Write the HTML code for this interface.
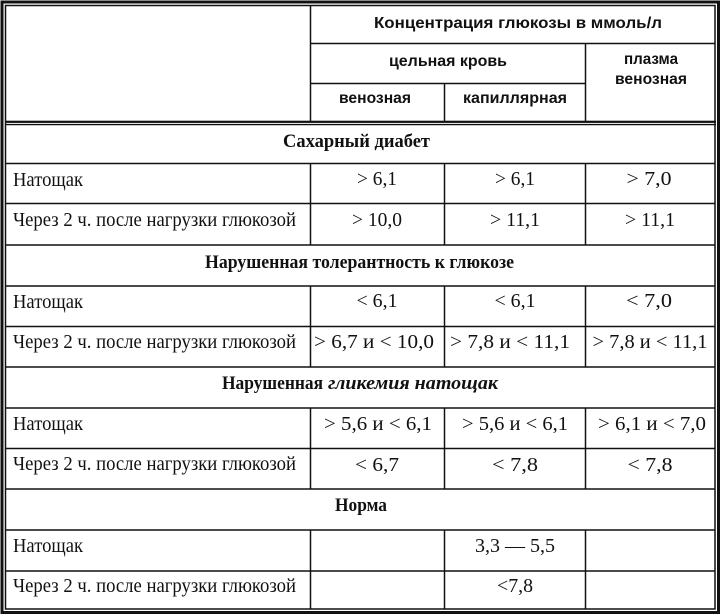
<!DOCTYPE html>
<html>
<head>
<meta charset="utf-8">
<style>
html,body{margin:0;padding:0;background:#fff;}
svg{display:block;}
.s{font-family:"Liberation Serif","DejaVu Serif",serif;font-size:19.5px;fill:#111;}
.sb{font-family:"Liberation Serif","DejaVu Serif",serif;font-size:19px;font-weight:bold;fill:#111;}
.sbi{font-family:"Liberation Serif","DejaVu Serif",serif;font-size:19px;font-weight:bold;font-style:italic;fill:#111;}
.h{font-family:"Liberation Sans","DejaVu Sans",sans-serif;font-size:16px;font-weight:bold;fill:#111;}
</style>
</head>
<body>
<svg width="723" height="616" viewBox="0 0 723 616" xmlns="http://www.w3.org/2000/svg">
<rect x="0" y="0" width="723" height="616" fill="#fff"/>
<rect x="2" y="2" width="716.5" height="610.5" fill="none" stroke="#111" stroke-width="3"/>
<rect x="5.5" y="5.5" width="709.5" height="603.5" fill="none" stroke="#111" stroke-width="1.5"/>
<rect x="5" y="120.7" width="711" height="2.2" fill="#111"/>
<line x1="5" y1="124.6" x2="716" y2="124.6" stroke="#111" stroke-width="1.4"/>
<g stroke="#111" stroke-width="1.5">
<line x1="310.5" y1="5" x2="310.5" y2="121"/>
<line x1="310" y1="43.5" x2="715" y2="43.5"/>
<line x1="310" y1="83.5" x2="585.5" y2="83.5"/>
<line x1="585.5" y1="43" x2="585.5" y2="121"/>
<line x1="444.5" y1="83" x2="444.5" y2="121"/>
<line x1="5" y1="163.5" x2="715" y2="163.5"/>
<line x1="5" y1="203.5" x2="715" y2="203.5"/>
<line x1="5" y1="245" x2="715" y2="245"/>
<line x1="5" y1="286" x2="715" y2="286"/>
<line x1="5" y1="326.5" x2="715" y2="326.5"/>
<line x1="5" y1="367" x2="715" y2="367"/>
<line x1="5" y1="408" x2="715" y2="408"/>
<line x1="5" y1="448.5" x2="715" y2="448.5"/>
<line x1="5" y1="489" x2="715" y2="489"/>
<line x1="5" y1="530" x2="715" y2="530"/>
<line x1="5" y1="571" x2="715" y2="571"/>
<line x1="310.5" y1="163" x2="310.5" y2="245"/>
<line x1="444.5" y1="163" x2="444.5" y2="245"/>
<line x1="585.5" y1="163" x2="585.5" y2="245"/>
<line x1="310.5" y1="286" x2="310.5" y2="367"/>
<line x1="444.5" y1="286" x2="444.5" y2="367"/>
<line x1="585.5" y1="286" x2="585.5" y2="367"/>
<line x1="310.5" y1="408" x2="310.5" y2="489"/>
<line x1="444.5" y1="408" x2="444.5" y2="489"/>
<line x1="585.5" y1="408" x2="585.5" y2="489"/>
<line x1="310.5" y1="530" x2="310.5" y2="609"/>
<line x1="444.5" y1="530" x2="444.5" y2="609"/>
<line x1="585.5" y1="530" x2="585.5" y2="609"/>
</g>

<text class="h" x="374" y="28" textLength="288" lengthAdjust="spacingAndGlyphs">Концентрация глюкозы в ммоль/л</text>
<text class="h" x="389" y="66" textLength="118" lengthAdjust="spacingAndGlyphs">цельная кровь</text>
<text class="h" x="624" y="64" textLength="54" lengthAdjust="spacingAndGlyphs">плазма</text>
<text class="h" x="615" y="84" textLength="72" lengthAdjust="spacingAndGlyphs">венозная</text>
<text class="h" x="339" y="103" textLength="72" lengthAdjust="spacingAndGlyphs">венозная</text>
<text class="h" x="463" y="103" textLength="104" lengthAdjust="spacingAndGlyphs">капиллярная</text>

<text class="sb" x="283" y="147" textLength="147" lengthAdjust="spacingAndGlyphs">Сахарный диабет</text>
<text class="sb" x="205" y="268" textLength="309" lengthAdjust="spacingAndGlyphs">Нарушенная толерантность к глюкозе</text>
<text class="sb" x="222" y="389" textLength="101" lengthAdjust="spacingAndGlyphs">Нарушенная</text>
<text class="sbi" x="328" y="389" textLength="170" lengthAdjust="spacingAndGlyphs">гликемия натощак</text>
<text class="sb" x="335" y="511" textLength="52" lengthAdjust="spacingAndGlyphs">Норма</text>

<text class="s" x="13" y="186" textLength="70" lengthAdjust="spacingAndGlyphs">Натощак</text>
<text class="s" x="13" y="226" textLength="283" lengthAdjust="spacingAndGlyphs">Через 2 ч. после нагрузки глюкозой</text>
<text class="s" x="13" y="308" textLength="70" lengthAdjust="spacingAndGlyphs">Натощак</text>
<text class="s" x="13" y="348" textLength="283" lengthAdjust="spacingAndGlyphs">Через 2 ч. после нагрузки глюкозой</text>
<text class="s" x="13" y="430" textLength="70" lengthAdjust="spacingAndGlyphs">Натощак</text>
<text class="s" x="13" y="470" textLength="283" lengthAdjust="spacingAndGlyphs">Через 2 ч. после нагрузки глюкозой</text>
<text class="s" x="13" y="552" textLength="70" lengthAdjust="spacingAndGlyphs">Натощак</text>
<text class="s" x="13" y="592" textLength="283" lengthAdjust="spacingAndGlyphs">Через 2 ч. после нагрузки глюкозой</text>

<g class="s" text-anchor="middle">
<text class="s" x="377" y="185" textLength="40" lengthAdjust="spacingAndGlyphs">&gt; 6,1</text>
<text class="s" x="515" y="185" textLength="40" lengthAdjust="spacingAndGlyphs">&gt; 6,1</text>
<text class="s" x="649" y="185" textLength="45" lengthAdjust="spacingAndGlyphs">&gt; 7,0</text>

<text class="s" x="377" y="226" textLength="50" lengthAdjust="spacingAndGlyphs">&gt; 10,0</text>
<text class="s" x="515" y="226" textLength="50" lengthAdjust="spacingAndGlyphs">&gt; 11,1</text>
<text class="s" x="650" y="226" textLength="50" lengthAdjust="spacingAndGlyphs">&gt; 11,1</text>

<text class="s" x="377" y="307" textLength="41" lengthAdjust="spacingAndGlyphs">&lt; 6,1</text>
<text class="s" x="515" y="307" textLength="41" lengthAdjust="spacingAndGlyphs">&lt; 6,1</text>
<text class="s" x="649" y="307" textLength="46" lengthAdjust="spacingAndGlyphs">&lt; 7,0</text>

<text class="s" x="374" y="348" textLength="120" lengthAdjust="spacingAndGlyphs">&gt; 6,7 и &lt; 10,0</text>
<text class="s" x="510" y="348" textLength="120" lengthAdjust="spacingAndGlyphs">&gt; 7,8 и &lt; 11,1</text>
<text class="s" x="650" y="348" textLength="115" lengthAdjust="spacingAndGlyphs">&gt; 7,8 и &lt; 11,1</text>

<text class="s" x="378" y="430" textLength="108" lengthAdjust="spacingAndGlyphs">&gt; 5,6 и &lt; 6,1</text>
<text class="s" x="515" y="430" textLength="106" lengthAdjust="spacingAndGlyphs">&gt; 5,6 и &lt; 6,1</text>
<text class="s" x="652" y="430" textLength="108" lengthAdjust="spacingAndGlyphs">&gt; 6,1 и &lt; 7,0</text>

<text class="s" x="377" y="471" textLength="44" lengthAdjust="spacingAndGlyphs">&lt; 6,7</text>
<text class="s" x="515" y="471" textLength="46" lengthAdjust="spacingAndGlyphs">&lt; 7,8</text>
<text class="s" x="650" y="471" textLength="45" lengthAdjust="spacingAndGlyphs">&lt; 7,8</text>

<text class="s" x="515" y="552" textLength="80" lengthAdjust="spacingAndGlyphs">3,3 — 5,5</text>
<text class="s" x="515" y="592" textLength="36" lengthAdjust="spacingAndGlyphs">&lt;7,8</text>
</g>
</svg>
</body>
</html>
